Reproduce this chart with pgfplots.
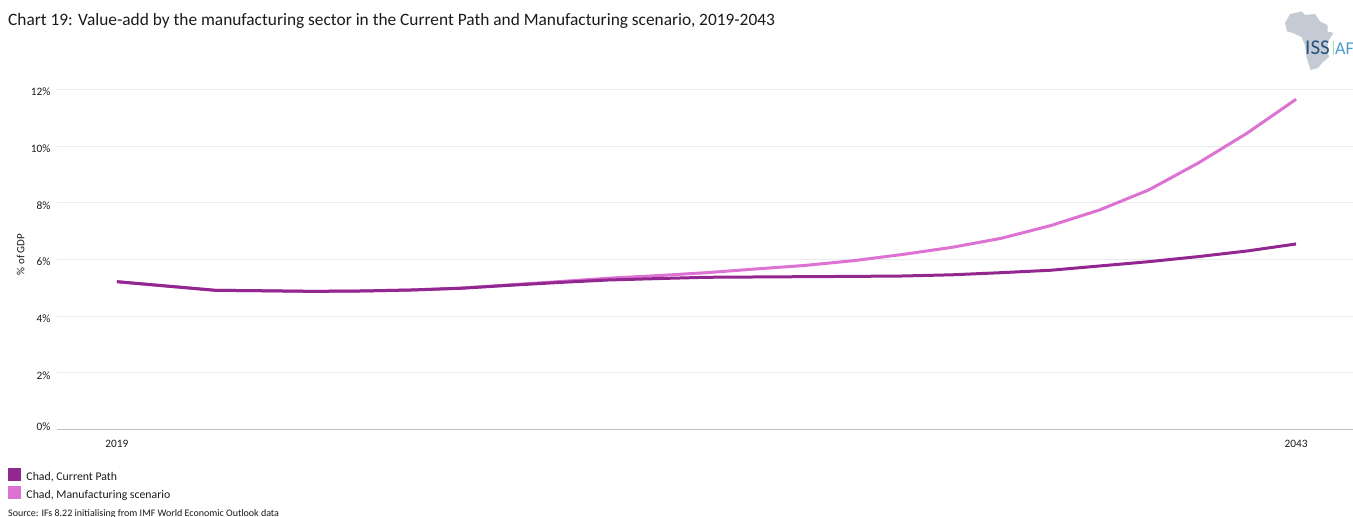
\documentclass[border=0pt]{standalone}
\usepackage{fontspec}
\setmainfont{Carlito}
\usepackage{pgfplots}
\pgfplotsset{compat=1.18}
\usepackage{pgfplotstable}

\definecolor{currentpath}{HTML}{92278F}
\definecolor{manufacturing}{HTML}{DD72D3}
\definecolor{gridgrey}{HTML}{EBEBEB}
\definecolor{baseline}{HTML}{BFBFBF}
\definecolor{mapgrey}{HTML}{C4CBD4}
\definecolor{issblue}{HTML}{24527F}
\definecolor{africablue}{HTML}{4A9BD0}
\definecolor{textblack}{HTML}{1A1A1A}

% Share of GDP, in percent
\pgfplotstableread{
year current manufacturing
2019 5.217 5.217
2021 4.913 4.913
2022 4.896 4.896
2023 4.875 4.875
2024 4.889 4.889
2025 4.924 4.924
2026 4.984 4.990
2027 5.090 5.105
2028 5.189 5.220
2029 5.277 5.340
2030 5.326 5.430
2031 5.372 5.535
2032 5.383 5.665
2033 5.394 5.790
2034 5.404 5.960
2035 5.418 6.180
2036 5.460 6.430
2037 5.535 6.749
2038 5.620 7.194
2039 5.771 7.748
2040 5.923 8.454
2041 6.100 9.396
2042 6.300 10.455
2043 6.548 11.655
}\valueadd

\begin{document}
\begin{tikzpicture}[x=1pt,y=1pt]
\path[use as bounding box] (0,0) rectangle (1353,517);

% Heading and source line
\node[anchor=base west,inner sep=0pt,font=\fontsize{17.35}{19}\selectfont,text=textblack] at (8,491) {Chart 19: Value-add by the manufacturing sector in the Current Path and Manufacturing scenario, 2019-2043};
\node[anchor=base west,inner sep=0pt,font=\fontsize{10}{12}\selectfont,text=textblack] at (8,0.5) {Source: IFs 8.22 initialising from IMF World Economic Outlook data};

% Organisation logo
\fill[mapgrey] (1285,494) -- (1290,503) -- (1301.5,505.5) -- (1305,502) -- (1315,503) -- (1320,495.5) -- (1327.5,492) -- (1327.5,485.5) -- (1333.5,484) -- (1328,475.5) -- (1327.5,467) -- (1329,460) -- (1322,454) -- (1318,449) -- (1310.5,447) -- (1306.5,460) -- (1305,472) -- (1301.5,480) -- (1293,484) -- (1287,485.5) -- cycle;
\node[anchor=base west,inner sep=0pt,font=\fontsize{21}{22}\selectfont,text=issblue] at (1305,462) {ISS};
\fill[africablue!40!green!50!white] (1332.6,462) rectangle (1333.4,476);
\node[anchor=base west,inner sep=0pt,font=\fontsize{18}{20}\selectfont,text=africablue] at (1335,462) {AF};

\begin{axis}[
  at={(57pt,87.5pt)}, anchor=south west,
  scale only axis, width=1296pt, height=340pt,
  xmin=2017.78, xmax=2044.16, ymin=0, ymax=12,
  axis x line*=bottom, axis y line*=left,
  x axis line style={draw=baseline,line width=1.4pt,-},
  y axis line style={draw=none},
  tick style={draw=none},
  ymajorgrids, grid style={draw=gridgrey,line width=1pt},
  xtick={2019,2043}, xticklabels={2019,2043},
  ytick={2,4,6,8,10,12}, yticklabels={2\%,4\%,6\%,8\%,10\%,12\%},
  extra y ticks={0}, extra y tick labels={0\%},
  extra y tick style={ymajorgrids=false,yticklabel style={yshift=5.5pt}},
  ticklabel style={font=\fontsize{11.3}{13}\selectfont,text=textblack},
  yticklabel style={yshift=-2.5pt,xshift=-3pt},
  xticklabel style={yshift=-7.5pt},
  ylabel={\% of GDP}, ylabel style={font=\fontsize{11}{13}\selectfont,text=textblack,at={(axis description cs:0,0.515)}},
  every axis y label/.append style={yshift=29pt},
  clip=false,
  reverse legend,
  legend cell align=left,
  legend style={at={(-48pt,-39pt)},anchor=north west,draw=none,fill=none,inner sep=0pt,outer sep=0pt,
    font=\fontsize{11.8}{13}\selectfont,text=textblack,row sep=4pt},
  legend image code/.code={\fill[#1,line width=0pt] (0pt,-3pt) rectangle (12pt,9pt);\path (16pt,0pt);},
  every axis legend/.append style={nodes={inner sep=0pt}},
]
\addplot[color=manufacturing,line width=3pt,line join=round] table[x=year,y=manufacturing] {\valueadd};
\addlegendentry{Chad, Manufacturing scenario}
\addplot[color=currentpath,line width=3pt,line join=round] table[x=year,y=current] {\valueadd};
\addlegendentry{Chad, Current Path}
\end{axis}
\end{tikzpicture}
\end{document}
